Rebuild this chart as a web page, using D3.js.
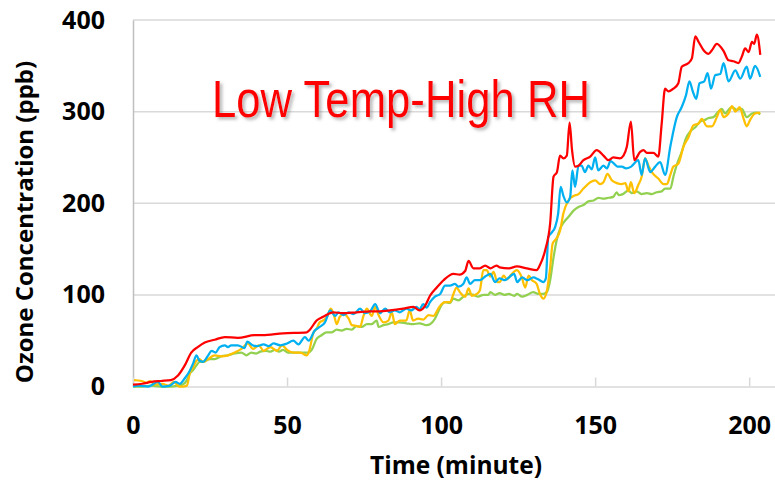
<!DOCTYPE html>
<html><head><meta charset="utf-8">
<script src="https://cdn.jsdelivr.net/npm/d3@7/dist/d3.min.js"></script>
<style>html,body{margin:0;padding:0;background:#fff;}svg{display:block;}</style>
</head><body>
<svg id="chart" width="775" height="480"></svg>
<script>
const xTicks = [0, 50, 100, 150, 200];
const yTicks = [0, 100, 200, 300, 400];
const title = "Low Temp-High RH";
const xTitle = "Time (minute)";
const yTitle = "Ozone Concentration (ppb)";

// [time (minute), ozone (ppb)]
const redSeries = [[0,2],[3,3],[6,5],[9,6],[12.3,7],[14.6,12],[16.8,23],[18.9,37],[21,43],[23.3,48],[26.5,51],[29.8,54],[34,53],[39.5,56],[42,56],[48.7,58],[56.4,59],[57.4,62],[59.6,72],[61.7,76],[65,81],[68,80],[72.6,81],[77,82],[80,82],[83.4,83],[87.7,85],[91,87],[93,83],[94.8,88],[96.4,99],[98.6,108],[100.8,116],[104,123],[106,122],[107.8,126],[108.9,137],[110.5,129],[112.6,129],[114.3,132],[116,129],[118,132],[119,130],[122,129],[124.6,131],[127.8,129],[131,127],[132,132],[133.8,149],[135.4,178],[136.5,229],[137.6,234],[138.6,252],[139.7,249],[140.8,252],[141.7,288],[142.5,258],[143.5,240],[144.6,241],[146.2,247],[148.4,251],[150.5,258],[152.7,252],[154.3,247],[155.9,250],[158,249],[159.2,252],[160.3,262],[161.6,289],[162.7,247],[164.6,256],[165.7,258],[166.8,255],[168.9,255],[170.5,251],[171.6,287],[172.7,325],[173.8,322],[175.4,325],[177,331],[178.1,349],[180.3,353],[181.4,358],[182.5,382],[183.6,376],[185.2,367],[186.8,363],[187.9,367],[189.5,374],[191.7,366],[193.3,356],[194.9,355],[196.5,353],[197.6,360],[198.7,369],[199.8,365],[200.9,376],[201.6,374],[202.5,384],[203.6,362]];

const blueSeries = [[0,0],[2,1],[5,0],[8.1,5],[9.5,0],[12,1],[13.8,5],[15.2,3],[16.8,9],[18.4,17],[19.5,25],[20.6,34],[21.6,28],[22.7,27],[24.4,34],[25.5,39],[26.8,37],[28.1,43],[29.8,45],[30.8,43],[31.9,45],[34,45],[36.2,42],[37.1,49],[38.8,45],[40.2,44],[42.4,46],[44,44],[45.6,47],[47.8,45],[50,47],[52,50],[53.7,46],[55.8,54],[57,50],[59,61],[60.6,65],[62.3,70],[64,83],[65.6,77],[66.7,81],[68.3,78],[70,81],[71.6,79],[73.7,85],[75.3,80],[77,82],[78.6,90],[80.2,80],[81.8,85],[83.4,81],[85,83],[86.6,81],[88.7,85],[90.3,83],[92,87],[93,84],[94.2,90],[95.3,86],[96.4,92],[98,98],[99.7,101],[101.3,110],[102.9,110],[104.5,112],[105.6,109],[107.2,112],[108.3,119],[109.4,112],[111,116],[112.6,116],[114.3,120],[116,123],[117.5,114],[119,118],[120.6,116],[122,119],[123.7,123],[124.7,114],[126.3,119],[128,116],[129.9,119],[131.5,117],[133.2,114],[134,118],[134.8,163],[135.9,168],[137,174],[138,189],[138.8,218],[139.7,208],[140.8,201],[141.9,207],[142.6,236],[143.5,218],[144.6,241],[145.6,241],[146.7,234],[147.8,241],[148.9,237],[150,250],[151,236],[152.7,241],[153.8,238],[155,246],[156.2,243],[157.3,240],[158.7,240],[160,238],[161.7,240],[164,247],[165.1,231],[166.2,249],[167.9,234],[169.5,240],[171.1,245],[172.7,231],[174.4,262],[176.5,294],[178.1,305],[179.5,318],[180.6,333],[181.7,322],[182.8,314],[183.9,331],[185.4,333],[186.5,342],[187.6,325],[189,340],[190.6,341],[191.7,353],[193.3,333],[195.5,345],[197.1,336],[199.2,349],[200.3,336],[201.9,350],[203.6,338]];

const orangeSeries = [[0.3,7],[2.8,6],[4.4,4],[5.5,6],[7.1,2],[9.5,3],[11.5,1],[13.3,5],[14.9,0],[16,0],[17.5,1],[18.4,14],[19.5,21],[20.6,28],[21.6,30],[22.7,27],[24.4,30],[26.5,34],[28.7,33],[30.8,34],[33,37],[35.2,41],[37.3,47],[38.9,41],[40.8,45],[42.4,39],[44.6,43],[46.7,39],[48.4,45],[50,40],[52.2,37],[54.3,37],[56.4,34],[57.2,39],[58.5,58],[59.6,63],[60.6,70],[61.7,72],[63,76],[64.2,85],[65.3,77],[66.1,68],[67.1,76],[68.3,79],[70,74],[71,67],[72.6,66],[73.7,65],[74.8,77],[75.9,85],[77.5,77],[78.6,87],[79.7,78],[81.3,70],[82.9,72],[84,81],[85,68],[86.6,72],[88.7,72],[89.8,83],[90.9,72],[92.5,74],[94.2,73],[95.9,78],[97.5,77],[99.1,85],[100.2,90],[101.3,92],[102.9,92],[104,101],[105,108],[106.1,103],[107.8,98],[108.9,107],[110,99],[111.6,101],[112.6,105],[113.7,127],[114.8,127],[116,120],[117,125],[118.3,114],[119,114],[120.3,121],[121.4,117],[122.5,121],[124.6,127],[126.2,119],[127.3,108],[128.4,121],[129.5,116],[131,112],[132.1,101],[133.2,96],[134.3,104],[135.4,130],[136.2,156],[137.3,161],[138.6,170],[139.7,189],[141.3,203],[143,208],[144.6,210],[146.2,216],[148.4,223],[150,225],[151.6,221],[152.7,223],[154,232],[155.4,225],[157,222],[158.7,221],[159.8,222],[160.8,213],[161.6,223],[162.7,211],[164,220],[165.1,229],[166.2,249],[167.3,241],[168.4,234],[170.5,227],[172.2,221],[173.3,221],[174.4,231],[175.4,240],[177,243],[178.7,262],[180.3,272],[181.9,285],[183.6,287],[184.6,292],[186.3,284],[187.9,284],[189.5,294],[190.6,302],[191.7,294],[193.3,298],[194.4,306],[195.5,300],[196.9,305],[198.2,292],[199.2,284],[200.3,291],[201.9,298],[203.6,299]];

const greenSeries = [[0,0],[3,0],[6,1],[9,0],[12,0],[14.6,1],[16,2],[17.5,7],[18.4,14],[19.5,18],[20.6,23],[21.6,27],[23,27],[24.9,30],[26.5,30],[28.7,33],[30.8,34],[33,36],[35.2,37],[36.8,34],[38.4,37],[40,36],[41.3,38],[43,39],[44.6,38],[46,40],[47.4,38],[48.7,40],[50.3,37],[52.5,37],[54.7,37],[56.9,37],[58,40],[59.6,52],[61.2,56],[62.8,59],[64.4,59],[66.1,62],[67.7,61],[69.3,63],[71,62],[72.6,66],[74.2,65],[75.9,68],[77.5,68],[79.1,72],[79.7,65],[81.3,67],[82.9,68],[84.5,70],[86.6,70],[88.7,69],[90.9,68],[93,69],[95.3,67],[96.4,68],[98,74],[99,81],[100.2,89],[101.3,92],[102.9,91],[104,96],[105.6,94],[107.2,98],[108.9,101],[110.5,100],[112,98],[113.7,100],[115.3,100],[116,103],[117.5,100],[119,102],[120.6,100],[122,101],[123.7,99],[124.7,101],[126.3,98],[128,100],[129.9,103],[131.5,101],[133.2,101],[134.3,103],[135.4,116],[136.5,141],[137.6,161],[138.6,172],[140,180],[141.3,185],[143,192],[144.6,196],[146.2,198],[147.8,202],[149.5,203],[151.1,206],[152.7,205],[154.3,206],[155.9,207],[157,212],[157.6,209],[159,210],[160.8,214],[161.9,211],[163.5,213],[165,210],[166.8,211],[168.4,210],[170,212],[171.6,213],[172.7,216],[174.4,216],[175.4,229],[176.5,242],[178.1,256],[179.5,271],[180.8,278],[182.5,283],[184.1,289],[185.7,291],[186.8,293],[188.4,294],[190,300],[191.1,303],[192.2,298],[193.3,302],[194.4,305],[195.9,302],[197.6,303],[199.2,294],[200.9,298],[202.5,299],[203.6,297]];

const seriesList = [
  {name: "green", data: greenSeries, color: "#92d050"},
  {name: "orange", data: orangeSeries, color: "#ffc000"},
  {name: "blue", data: blueSeries, color: "#00b0f0"},
  {name: "red", data: redSeries, color: "#ff0000"}
];

const svg = d3.select("#chart");
const x = d3.scaleLinear().domain([0, 210]).range([133, 780]);
const y = d3.scaleLinear().domain([0, 400]).range([386.5, 20]);

const defs = svg.append("defs");
const f = defs.append("filter").attr("id", "shadow").attr("x", "-10%").attr("y", "-10%").attr("width", "130%").attr("height", "140%");
f.append("feDropShadow").attr("dx", 2.5).attr("dy", 2.5).attr("stdDeviation", 1.6)
  .attr("flood-color", "#7f7f7f").attr("flood-opacity", 0.55);

// horizontal gridlines
svg.append("g").selectAll("line").data(yTicks.filter(d => d > 0)).join("line")
  .attr("x1", 133).attr("x2", 775)
  .attr("y1", d => y(d)).attr("y2", d => y(d))
  .attr("stroke", "#d9d9d9").attr("stroke-width", 1.5);

// y axis
const yAxis = svg.append("g").attr("transform", "translate(133,0)")
  .call(d3.axisLeft(y).tickValues(yTicks).tickSize(0).tickPadding(28));
yAxis.select(".domain").attr("stroke", "#bfbfbf").attr("stroke-width", 1.5);
yAxis.selectAll("text").attr("font-family", "'Open Sans', sans-serif").attr("font-weight", "bold")
  .attr("font-size", 25).attr("fill", "#000");

// x axis
const xAxis = svg.append("g").attr("transform", "translate(0,386.5)")
  .call(d3.axisTop(x).tickValues(xTicks).tickSize(9).tickSizeOuter(0));
xAxis.select(".domain").attr("stroke", "#d9d9d9").attr("stroke-width", 1.5);
xAxis.selectAll(".tick line").attr("stroke", "#d9d9d9").attr("stroke-width", 1.5);
xAxis.selectAll(".tick text").attr("y", 47).attr("dy", 0)
  .attr("font-family", "'Open Sans', sans-serif").attr("font-weight", "bold")
  .attr("font-size", 25).attr("fill", "#000");

// series lines
const line = d3.line().x(d => x(d[0])).y(d => y(d[1])).curve(d3.curveMonotoneX);
svg.append("g").selectAll("path").data(seriesList).join("path")
  .attr("d", d => line(d.data))
  .attr("fill", "none").attr("stroke", d => d.color)
  .attr("stroke-width", 2.25).attr("stroke-linejoin", "round");

// axis titles
svg.append("text").attr("x", 456).attr("y", 474).attr("text-anchor", "middle")
  .attr("font-family", "'Open Sans', sans-serif").attr("font-weight", "bold")
  .attr("font-size", 24.5).attr("fill", "#000").text(xTitle);
svg.append("text").attr("transform", "translate(33,222) rotate(-90)").attr("text-anchor", "middle")
  .attr("font-family", "'Open Sans', sans-serif").attr("font-weight", "bold")
  .attr("font-size", 24).attr("fill", "#000").text(yTitle);

// chart title
svg.append("text").attr("x", 212).attr("y", 117)
  .attr("font-family", "'Liberation Sans', Arial, sans-serif").attr("font-size", 52)
  .attr("textLength", 378).attr("lengthAdjust", "spacingAndGlyphs")
  .attr("fill", "#ff0000").attr("filter", "url(#shadow)").text(title);
</script>
</body></html>
